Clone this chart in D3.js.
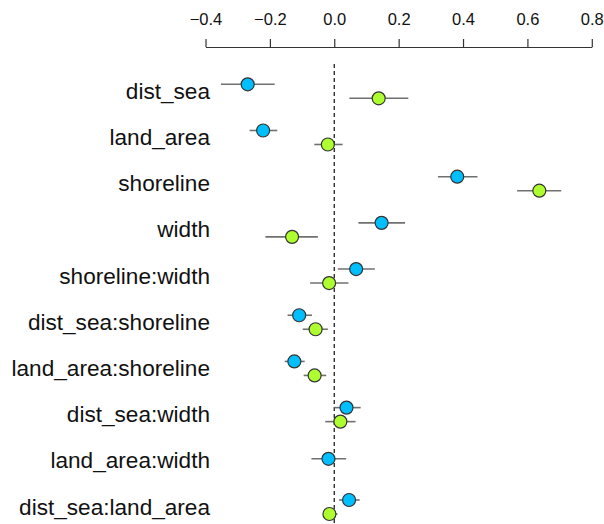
<!DOCTYPE html>
<html>
<head>
  <meta charset="utf8">
  <script src="https://d3js.org/d3.v7.min.js"></script>
  <style>
    body { margin: 0; background: #fff; }
    text { font-family: 'Liberation Sans', Arial, sans-serif; fill: #111; }
  </style>
</head>
<body>
  <svg id="chart" width="604" height="524"></svg>
  <script>
    var terms = ['dist_sea', 'land_area', 'shoreline', 'width', 'shoreline:width',
      'dist_sea:shoreline', 'land_area:shoreline', 'dist_sea:width',
      'land_area:width', 'dist_sea:land_area'];

    // blue series: estimate, lower, upper
    var blueEst = [-0.269, -0.221, 0.382, 0.147, 0.068, -0.109, -0.124, 0.038, -0.018, 0.046];
    var blueLo = [-0.352, -0.263, 0.322, 0.075, 0.011, -0.145, -0.154, 0.000, -0.071, 0.015];
    var blueHi = [-0.185, -0.177, 0.445, 0.220, 0.126, -0.069, -0.092, 0.082, 0.037, 0.079];

    // green series (no estimate for land_area:width)
    var greenEst = [0.138, -0.020, 0.637, -0.131, -0.016, -0.058, -0.061, 0.019, null, -0.015];
    var greenLo = [0.047, -0.062, 0.568, -0.214, -0.075, -0.098, -0.095, -0.028, null, -0.035];
    var greenHi = [0.230, 0.026, 0.705, -0.051, 0.044, -0.020, -0.025, 0.066, null, 0.010];

    var ticks = [-0.4, -0.2, 0, 0.2, 0.4, 0.6, 0.8];

    var svg = d3.select('#chart');

    var x = d3.scaleLinear().domain([-0.4, 0.8]).range([205.5, 591.8]);
    var y = d3.scalePoint().domain(terms).range([91.3, 507]);

    // top axis
    var axis = svg.append('g')
      .attr('transform', 'translate(0,47)')
      .call(d3.axisTop(x).tickValues(ticks).tickSize(8).tickSizeOuter(0)
        .tickFormat(function (d) { return d3.format('.1f')(d).replace('-', '\u2212'); }));
    axis.select('.domain').attr('stroke', '#333').attr('stroke-width', 1.2);
    axis.selectAll('.tick line').attr('stroke', '#333').attr('stroke-width', 1.2);
    axis.selectAll('.tick text')
      .attr('y', -22)
      .attr('dy', '0')
      .style('font-size', '16.5px')
      .style('font-family', "'Liberation Sans', Arial, sans-serif")
      .attr('fill', '#111');

    // zero reference line
    svg.append('line')
      .attr('x1', x(0)).attr('x2', x(0))
      .attr('y1', 64).attr('y2', 524)
      .attr('stroke', '#222')
      .attr('stroke-width', 1.3)
      .attr('stroke-dasharray', '4,3');

    // term labels
    svg.append('g').selectAll('text')
      .data(terms)
      .enter().append('text')
      .attr('x', 210)
      .attr('y', function (d) { return y(d) + 7.5; })
      .attr('text-anchor', 'end')
      .style('font-size', '22.6px')
      .text(function (d) { return d; });

    function build(est, lo, hi, color, offset) {
      return terms.map(function (t, i) {
        return { term: t, est: est[i], lo: lo[i], hi: hi[i], color: color, offset: offset };
      }).filter(function (d) { return d.est !== null; });
    }

    var blue = build(blueEst, blueLo, blueHi, '#00BFFF', -7);
    var green = build(greenEst, greenLo, greenHi, '#ADFF2F', 7);
    // single-series rows sit on the row centre
    blue.forEach(function (d) {
      if (greenEst[terms.indexOf(d.term)] === null) d.offset = -2;
    });
    var pts = blue.concat(green);

    var g = svg.append('g');
    g.selectAll('line.ci')
      .data(pts)
      .enter().append('line')
      .attr('class', 'ci')
      .attr('x1', function (d) { return x(d.lo); })
      .attr('x2', function (d) { return x(d.hi); })
      .attr('y1', function (d) { return y(d.term) + d.offset; })
      .attr('y2', function (d) { return y(d.term) + d.offset; })
      .attr('stroke', '#707070')
      .attr('stroke-width', 1.6);

    g.selectAll('circle')
      .data(pts)
      .enter().append('circle')
      .attr('cx', function (d) { return x(d.est); })
      .attr('cy', function (d) { return y(d.term) + d.offset; })
      .attr('r', 6.5)
      .attr('fill', function (d) { return d.color; })
      .attr('stroke', '#333')
      .attr('stroke-width', 1.2);
  </script>
</body>
</html>
